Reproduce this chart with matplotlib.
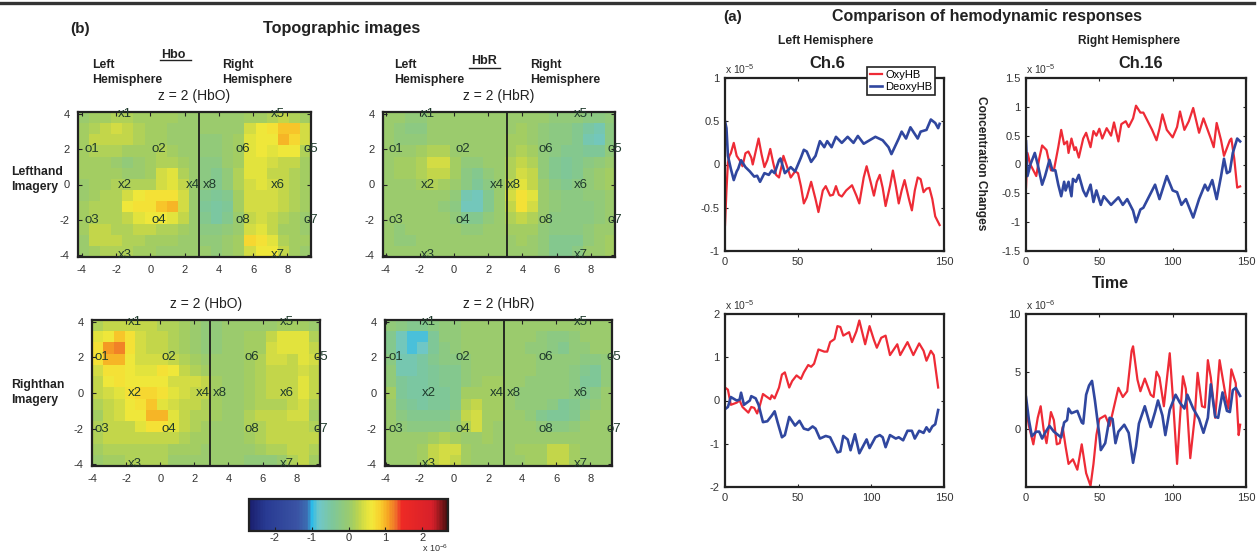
"""
Topographic images and hemodynamic responses, two part figure
"""
import matplotlib
matplotlib.use('Agg')
import matplotlib.pyplot as plt
from matplotlib.cm import ScalarMappable
from matplotlib.colors import LinearSegmentedColormap, Normalize
import numpy as np

plt.rcParams['font.family'] = ['Liberation Sans', 'DejaVu Sans']
plt.rcParams['mathtext.default'] = 'regular'
plt.rcParams['axes.unicode_minus'] = False

W, H = 1258, 552
DARK = '#222222'
RED = '#ee2b36'
BLUE = '#30479f'

# topographic maps, units of 1e-7, top row first
map_left_hbo = [
    [0, 1, 1, 2, 2, 1, 1, 1, 1, 0, 0, 0, 0, 0, 0, 1, 1, 2, 3, 2, 1],
    [1, 2, 3, 4, 3, 2, 1, 1, 0, 0, 0, 0, 0, 0, 0, 4, 6, 7, 9, 9, 4],
    [1, 3, 3, 3, 3, 2, 1, 1, 0, 0, 0, -1, -1, 0, 1, 5, 6, 6, 10, 8, 4],
    [1, 2, 2, 2, 1, 1, 1, 2, 1, 0, 0, -1, -1, 0, 1, 5, 6, 5, 6, 6, 2],
    [1, 1, 1, 0, -1, 0, 1, 2, 2, 1, 0, -2, -2, 0, 1, 5, 5, 4, 3, 3, 1],
    [1, 1, 1, 1, 0, 0, 1, 4, 5, 2, 0, -2, -3, -1, 2, 5, 5, 3, 3, 2, 1],
    [0, 1, 1, 2, 2, 2, 2, 4, 5, 3, 0, -2, -3, -1, 2, 4, 5, 4, 3, 2, 1],
    [0, 1, 2, 2, 4, 6, 7, 7, 7, 4, 0, -3, -4, -3, 1, 4, 4, 4, 3, 2, 1],
    [1, 2, 2, 2, 6, 7, 7, 9, 10, 4, 0, -4, -5, -4, 1, 4, 4, 4, 3, 2, 1],
    [1, 2, 2, 2, 3, 5, 6, 6, 5, 3, 0, -3, -5, -3, 0, 3, 4, 3, 2, 1, 0],
    [1, 3, 3, 2, 2, 3, 3, 2, 2, 1, 0, -2, -2, -1, 0, 4, 5, 3, 1, 1, 0],
    [0, 3, 3, 3, 2, 2, 1, 1, 1, 0, 0, -1, -1, 0, 1, 8, 7, 5, 2, 1, 1],
    [0, 1, 2, 2, 2, 1, 1, 0, 0, 0, 0, 0, -1, 0, 1, 4, 6, 6, 3, 1, 0],
]
map_left_hbr = [
    [0, 0, -1, -1, 0, 0, 0, 0, 0, 0, 0, 0, 0, 0, 0, -1, -1, -1, -2, -2, -1],
    [0, -1, -2, -2, 0, 0, 0, 0, 0, 0, 0, 0, 1, 0, -1, -2, -2, -3, -5, -6, -2],
    [0, -1, -1, -1, 0, 0, 0, 0, 0, 0, 0, 1, 1, 0, -1, -2, -2, -3, -6, -7, -2],
    [0, 0, 0, 1, 2, 2, 0, 0, 0, 0, 0, 1, 2, 1, -1, -2, -3, -3, -4, -4, -1],
    [0, 1, 1, 2, 4, 4, 1, -1, -1, 0, 0, 2, 3, 2, -1, -3, -4, -3, -2, -1, 0],
    [0, 1, 1, 2, 3, 3, 1, -2, -3, -1, 0, 2, 4, 3, -1, -3, -4, -3, -1, 0, 1],
    [0, 0, 0, 1, 2, 1, 0, -2, -4, -2, 0, 3, 5, 3, 0, -2, -3, -2, -1, 0, 1],
    [0, 0, 0, 0, 0, 0, -1, -6, -7, -3, 0, 4, 7, 5, 0, -1, -2, -2, -1, -1, 0],
    [0, 0, 0, 0, 0, -1, -2, -7, -7, -3, 0, 3, 7, 4, 0, -1, -2, -2, -2, -1, 0],
    [0, 0, 0, 0, 0, 0, -1, -3, -3, -1, 0, 2, 3, 2, 0, -2, -2, -2, -2, -1, 0],
    [0, -1, 0, 0, 0, 0, 0, -1, -1, 0, 0, 1, 1, 1, -1, -2, -2, -2, -1, 0, 0],
    [0, -1, -1, 0, 0, 0, 0, 0, 0, 0, 0, 0, 1, 0, -1, -3, -3, -3, -1, 0, 1],
    [0, 0, 0, 0, 0, 0, 0, 0, 0, 0, 0, 0, 0, 0, -1, -3, -3, -2, 0, 0, 1],
]
map_right_hbo = [
    [2, 3, 3, 3, 3, 3, 2, 2, 1, 0, -1, -1, 0, 0, 0, 0, 0, 1, 1, 1, 0],
    [5, 6, 9, 7, 4, 3, 3, 2, 1, 0, -1, -1, 0, 0, 1, 1, 3, 5, 5, 5, 2],
    [7, 11, 12, 7, 4, 3, 3, 2, 1, 0, -1, -1, 0, 0, 1, 1, 4, 5, 5, 5, 3],
    [7, 10, 10, 6, 4, 4, 4, 3, 2, 1, 0, 0, 0, 0, 1, 2, 4, 4, 3, 5, 4],
    [4, 7, 7, 6, 5, 5, 7, 6, 3, 2, 1, 0, 0, 0, 1, 2, 3, 3, 3, 4, 3],
    [3, 6, 7, 6, 6, 6, 6, 4, 4, 4, 3, 1, 0, 0, 1, 2, 3, 3, 3, 5, 3],
    [3, 4, 5, 7, 8, 8, 7, 5, 4, 3, 3, 1, 0, 0, 1, 2, 3, 3, 3, 5, 3],
    [2, 3, 4, 6, 7, 9, 5, 4, 3, 3, 2, 1, 0, 0, 1, 2, 2, 2, 3, 4, 2],
    [1, 3, 4, 6, 6, 10, 10, 5, 3, 2, 2, 1, 0, 0, 2, 3, 3, 3, 4, 4, 1],
    [2, 3, 3, 3, 5, 7, 7, 5, 3, 2, 1, 0, 0, 0, 2, 2, 3, 3, 3, 3, 2],
    [2, 3, 3, 3, 3, 3, 3, 3, 2, 1, 1, 0, 0, 0, 1, 2, 3, 3, 3, 3, 3],
    [1, 2, 2, 2, 2, 2, 2, 1, 1, 1, 0, 0, 0, 0, 0, 1, 2, 2, 3, 3, 2],
    [0, 1, 1, 2, 2, 2, 2, 0, 0, 0, 0, 0, 0, 0, -1, -1, -1, 0, 2, 3, 1],
]
map_right_hbr = [
    [-1, -2, -3, -3, -2, -1, -1, 0, 0, 0, 0, 0, 0, 0, 0, 0, 0, 0, 0, 0, 0],
    [-3, -7, -9, -9, -4, -1, -1, 0, 0, 0, 0, 0, 0, 0, -1, -2, -2, -1, 0, 0, 0],
    [-3, -7, -9, -8, -4, -2, -1, 0, 0, 0, 0, 0, 0, -1, -1, -2, -3, -1, -1, 0, 0],
    [-2, -6, -6, -5, -3, -2, -2, -1, 0, 0, 0, 0, 0, 0, -1, -1, -1, -1, -2, -2, -1],
    [-1, -6, -6, -5, -4, -3, -3, -1, 0, 0, 0, 0, 0, 0, -1, -1, -1, -2, -3, -4, -1],
    [-1, -4, -5, -5, -4, -3, -3, -1, 0, 1, 1, 0, 0, -1, -1, -1, -1, -2, -4, -4, -1],
    [1, -4, -5, -5, -4, -4, -3, 1, 1, 1, 1, 0, -1, -1, -1, -1, -1, -2, -3, -2, 0],
    [0, -3, -4, -5, -4, -4, -3, 2, 3, 1, 1, 0, -1, -1, -1, -2, -4, -3, -2, -1, 0],
    [0, -2, -3, -3, -3, -3, -2, 3, 4, 1, 1, 0, 0, -1, -3, -4, -4, -3, -1, 0, 0],
    [0, -1, -2, -2, -2, -2, -1, 2, 4, 1, 0, 0, 0, 0, -1, -2, -2, -1, 0, 0, 0],
    [0, 0, 0, 0, 1, 2, 1, 0, 0, 1, 0, 0, 0, 0, 0, 0, 0, 0, 0, 0, 0],
    [0, 0, 0, 1, 3, 4, 4, 1, 0, 0, 0, 0, 1, 1, 1, 3, 3, 1, 0, 0, 0],
    [0, 0, 0, 1, 3, 4, 3, 1, 0, 0, 0, 0, 0, 1, 1, 3, 3, 1, 0, 0, 0],
]

# probe labels on the maps
probe_names = ['x1', 'x2', 'x3', 'x4', 'x8', 'x5', 'x6', 'x7',
               'o1', 'o2', 'o3', 'o4', 'o6', 'o5', 'o8', 'o7']
probe_x = [-1.5, -1.5, -1.5, 2.5, 3.5, 7.45, 7.45, 7.45,
           -3.4, 0.5, -3.4, 0.5, 5.4, 9.4, 5.4, 9.4]
probe_y = [4, 0, -4, 0, 0, 4, 0, -4, 2, 2, -2, -2, 2, 2, -2, -2]

map_ticks_x = [-4, -2, 0, 2, 4, 6, 8]
map_ticks_y = [-4, -2, 0, 2, 4]
cbar_ticks = [-2, -1, 0, 1, 2]

# Ch.6, units of 1e-5
ch6_oxy_t = [0, 1, 2, 3, 4, 6, 8, 10, 12, 14, 16, 18, 19, 21, 23, 25, 27, 29, 31, 33, 35, 37, 39, 40, 42, 45, 48, 50,
             52, 54, 56, 59, 62, 64, 67, 69, 72, 74, 76, 78, 80, 83, 87, 90, 92, 95, 97, 100, 102, 104, 106, 108, 110,
             113, 115, 117, 119, 121, 123, 126, 128, 130, 132, 134, 136, 138, 140, 142, 144, 147]
ch6_oxy = [-0.7, -0.3, 0.02, 0.1, 0.13, 0.25, 0.1, 0.05, -0.02, 0.13, 0.15, 0.08, 0.0, 0.15, 0.3, 0.12, -0.03, 0.05,
           0.18, 0.02, -0.12, -0.15, 0.0, 0.1, 0.0, -0.15, -0.08, -0.1, -0.25, -0.45, -0.38, -0.2, -0.4, -0.55, -0.3,
           -0.25, -0.36, -0.35, -0.25, -0.35, -0.37, -0.3, -0.24, -0.36, -0.45, -0.15, -0.02, -0.22, -0.36, -0.2,
           -0.12, -0.27, -0.48, -0.25, -0.07, -0.25, -0.45, -0.3, -0.18, -0.4, -0.53, -0.3, -0.15, -0.17, -0.32,
           -0.28, -0.27, -0.4, -0.6, -0.7]
ch6_deoxy_t = [0, 1, 2, 4, 6, 8, 9, 11, 14, 17, 20, 22, 24, 27, 30, 32, 34, 37, 38, 41, 44, 45, 48, 50, 52, 54, 56,
               59, 62, 65, 68, 70, 73, 76, 80, 84, 88, 91, 95, 98, 103, 108, 112, 114, 119, 121, 124, 127, 132, 134,
               138, 141, 144, 146, 147]
ch6_deoxy = [0.5, 0.42, 0.1, -0.05, -0.18, -0.08, -0.05, 0.05, -0.03, -0.08, -0.14, -0.13, -0.2, -0.1, -0.12, -0.07,
             -0.1, 0.05, 0.07, -0.1, -0.05, -0.03, -0.08, 0.0, 0.08, 0.17, 0.15, 0.03, 0.1, 0.27, 0.2, 0.27, 0.2,
             0.32, 0.25, 0.32, 0.25, 0.33, 0.24, 0.27, 0.32, 0.28, 0.2, 0.12, 0.3, 0.38, 0.3, 0.43, 0.3, 0.38, 0.4,
             0.52, 0.48, 0.42, 0.47]

# Ch.16, units of 1e-5
ch16_oxy_t = [0, 1, 3, 7, 9, 11, 14, 17, 19, 22, 24, 26, 28, 29, 31, 33, 34, 36, 39, 41, 44, 46, 48, 50, 52, 55, 58,
              60, 63, 65, 68, 70, 73, 75, 78, 80, 83, 86, 89, 91, 93, 96, 100, 103, 105, 108, 111, 114, 118, 121,
              126, 128, 130, 133, 135, 139, 140, 142, 144, 146]
ch16_oxy = [-0.4, 0.2, 0.0, -0.2, 0.1, 0.33, 0.25, -0.1, -0.1, 0.3, 0.6, 0.35, 0.4, 0.2, 0.45, 0.25, 0.3, 0.12, 0.45,
            0.55, 0.3, 0.58, 0.5, 0.62, 0.45, 0.63, 0.5, 0.73, 0.4, 0.7, 0.75, 0.65, 0.8, 1.02, 0.9, 0.9, 0.75, 0.6,
            0.42, 0.62, 0.87, 0.6, 0.47, 0.65, 0.92, 0.6, 0.75, 0.98, 0.55, 0.8, 0.45, 0.3, 0.72, 0.42, 0.15, 0.42,
            0.45, 0.1, -0.4, -0.38]
ch16_deoxy_t = [0, 1, 3, 6, 8, 11, 13, 16, 18, 20, 22, 24, 26, 27, 29, 31, 32, 34, 36, 39, 41, 44, 46, 48, 51, 53,
                58, 63, 66, 69, 73, 75, 78, 80, 84, 88, 91, 96, 100, 103, 106, 109, 114, 118, 122, 124, 127, 130,
                133, 135, 137, 139, 141, 144, 146]
ch16_deoxy = [0.4, -0.2, 0.0, 0.2, 0.0, -0.35, -0.2, 0.08, -0.1, -0.1, -0.35, -0.55, -0.3, -0.45, -0.3, -0.55, -0.25,
              -0.3, -0.18, -0.45, -0.55, -0.35, -0.65, -0.45, -0.7, -0.55, -0.7, -0.57, -0.7, -0.6, -0.8, -1.0, -0.78,
              -0.75, -0.55, -0.35, -0.6, -0.2, -0.45, -0.48, -0.7, -0.6, -0.92, -0.6, -0.35, -0.45, -0.27, -0.6,
              -0.2, 0.1, -0.15, -0.12, 0.2, 0.45, 0.4]

# lower left, units of 1e-5
low_left_oxy_t = [0, 2, 4, 8, 10, 12, 16, 18, 20, 22, 24, 26, 28, 31, 32, 34, 37, 39, 41, 44, 46, 49, 52, 54, 57, 59,
                  61, 64, 68, 70, 72, 75, 77, 79, 81, 85, 87, 90, 92, 96, 99, 102, 104, 107, 110, 113, 118, 120,
                  125, 129, 133, 136, 138, 141, 143, 146]
low_left_oxy = [0.3, 0.25, -0.1, -0.05, 0.0, -0.15, -0.28, -0.15, -0.17, -0.3, -0.1, 0.15, 0.1, 0.03, 0.12, 0.05, 0.3,
                0.6, 0.65, 0.3, 0.45, 0.58, 0.5, 0.65, 0.82, 0.78, 0.85, 1.18, 1.13, 1.13, 1.35, 1.42, 1.72, 1.7, 1.5,
                1.58, 1.35, 1.6, 1.85, 1.3, 1.72, 1.4, 1.22, 1.45, 1.5, 1.05, 1.3, 1.05, 1.35, 1.05, 1.32, 1.15,
                0.92, 1.15, 1.05, 0.3]
low_left_deoxy_t = [0, 2, 4, 8, 10, 11, 13, 15, 17, 18, 21, 23, 26, 29, 32, 34, 36, 39, 41, 44, 48, 51, 54, 57, 60,
                    62, 65, 69, 72, 77, 79, 81, 84, 86, 89, 92, 97, 99, 103, 106, 108, 110, 113, 117, 119, 122, 125,
                    128, 130, 133, 136, 138, 140, 142, 144, 146]
low_left_deoxy = [-0.2, -0.15, 0.08, 0.0, 0.02, 0.18, -0.1, -0.05, 0.0, 0.1, 0.05, -0.1, -0.5, -0.48, -0.35, -0.25,
                  -0.5, -0.85, -0.8, -0.38, -0.58, -0.47, -0.65, -0.68, -0.6, -0.65, -0.88, -0.82, -0.85, -1.2, -1.18,
                  -0.82, -0.9, -1.15, -0.78, -1.22, -0.9, -1.1, -0.85, -0.8, -0.85, -1.08, -0.8, -0.88, -0.85, -0.92,
                  -0.7, -0.7, -0.88, -0.7, -0.75, -0.62, -0.72, -0.6, -0.55, -0.22]

# lower right, units of 1e-6
low_right_oxy_t = [0, 2, 5, 8, 10, 12, 14, 17, 19, 21, 23, 25, 27, 29, 32, 35, 38, 41, 44, 46, 48, 50, 54, 57, 61, 63,
                   66, 69, 72, 73, 76, 78, 81, 85, 87, 89, 91, 94, 98, 100, 103, 105, 107, 109, 112, 115, 117, 120,
                   122, 124, 126, 129, 132, 136, 138, 140, 143, 145, 146]
low_right_oxy = [1.8, 0.3, -1.3, 1.0, 2.0, 0.0, -1.2, 1.5, 0.8, -1.3, -1.2, 0.2, -1.5, -3.0, -2.6, -3.5, -1.3, -3.8,
                 -4.9, -3.0, -0.5, 0.9, 1.2, 0.3, 2.5, 3.6, 2.8, 3.3, 6.8, 7.2, 4.3, 3.3, 4.4, 3.0, 2.8, 5.0, 4.5,
                 2.0, 6.6, 3.0, -3.0, 1.0, 4.6, 3.5, -2.5, 1.0, 4.9, 2.0, 1.9, 6.0, 4.5, 1.0, 6.0, 3.0, 1.8, 5.2,
                 4.0, -0.5, 0.4]
low_right_deoxy_t = [0, 2, 4, 7, 9, 11, 13, 16, 19, 24, 26, 28, 29, 31, 35, 38, 39, 41, 43, 45, 47, 50, 51, 54, 57, 59,
                     61, 63, 67, 70, 73, 75, 77, 81, 85, 88, 90, 93, 95, 98, 102, 105, 108, 110, 114, 118, 121, 124,
                     126, 129, 131, 134, 137, 139, 141, 143, 146]
low_right_deoxy = [2.8, 0.8, -0.6, -0.2, -0.2, -0.8, -0.3, 0.3, -0.2, -0.7, 0.6, 0.8, 1.8, 1.4, 1.6, 0.6, 0.5, 3.0,
                   3.8, 4.2, 2.5, -0.5, -1.8, -1.2, 1.0, 0.9, -1.2, -0.2, 0.4, -0.3, -2.9, -1.5, 0.5, 2.0, 0.2, 1.5,
                   2.5, 1.2, -0.5, 1.7, 3.0, 2.3, 1.8, 3.0, 1.8, 0.9, -0.3, 1.0, 3.9, 1.1, 1.0, 3.2, 1.6, 1.5, 3.4,
                   3.6, 2.9]

map_cmap = LinearSegmentedColormap.from_list('maps', [
    (0.00, '#1a1f6e'), (0.08, '#283a92'), (0.24, '#3a53a4'), (0.29, '#3c6db2'),
    (0.315, '#2dbbe8'), (0.35, '#6fc7c9'), (0.42, '#7ec79a'), (0.48, '#92ca7a'),
    (0.50, '#9acb70'), (0.52, '#a4ce62'), (0.555, '#c0d54c'), (0.59, '#e2e33e'),
    (0.62, '#f3e83a'), (0.66, '#f8cf2d'), (0.70, '#f6a623'), (0.74, '#ef6c2b'),
    (0.77, '#ee2a25'), (0.925, '#d7202a'), (1.00, '#4a1010')], N=128)
map_norm = Normalize(-2.7, 2.7)


def ax_px(x0, y0, x1, y1):
    """Axes from pixel corners of the reference"""
    ax = fig.add_axes([x0 / W, 1 - y1 / H, (x1 - x0) / W, (y1 - y0) / H])
    for spine in ax.spines.values():
        spine.set_linewidth(1.6)
        spine.set_color(DARK)
    return ax


def txt(x, y, s, **kw):
    kw.setdefault('ha', 'center')
    kw.setdefault('va', 'center')
    kw.setdefault('color', DARK)
    fig.text(x / W, 1 - y / H, s, **kw)


def draw_map(box, grid, xlim, ylim, title, vline):
    ax = ax_px(*box)
    ax.imshow(np.array(grid) / 10, cmap=map_cmap, norm=map_norm, aspect='auto',
              interpolation='nearest', extent=[xlim[0], xlim[1], ylim[0], ylim[1]])
    ax.axvline(vline, color='#1c1c1c', linewidth=1.3)
    for name, px, py in zip(probe_names, probe_x, probe_y):
        ax.text(px, py, name, ha='center', va='center', fontsize=9.5,
                color='#1f3a2c', clip_on=False)
    ax.set_xlim(xlim)
    ax.set_ylim(ylim)
    ax.set_xticks(map_ticks_x)
    ax.set_yticks(map_ticks_y)
    ax.tick_params(direction='in', top=True, right=True, length=3, width=0.8,
                   labelsize=8, labelcolor='#333333', color=DARK, pad=6)
    ax.set_title(title, fontsize=10, color=DARK, pad=8.5)
    return ax


def draw_lines(box, oxy, deoxy, ylim, yticks, ylabels, xlabels, exp_label):
    ax = ax_px(*box)
    line_oxy, = ax.plot(oxy[0], oxy[1], color=RED, linewidth=1.6)
    line_deoxy, = ax.plot(deoxy[0], deoxy[1], color=BLUE, linewidth=1.9)
    ax.set_xlim(0, 150)
    ax.set_ylim(ylim)
    ax.set_xticks([0, 50, 100, 150])
    ax.set_xticklabels(xlabels)
    ax.set_yticks(yticks)
    ax.set_yticklabels(ylabels)
    ax.tick_params(direction='in', top=True, right=True, length=2.5, width=0.8,
                   labelsize=8, labelcolor='#333333', color=DARK, pad=4)
    ax.text(0.0, 1.012, exp_label, transform=ax.transAxes, fontsize=7.5,
            ha='left', va='bottom', color='#333333')
    return ax, line_oxy, line_deoxy


fig = plt.figure(figsize=(W / 100, H / 100), dpi=100, facecolor='white')

# rule across the top of the page
fig.add_artist(plt.Line2D([0, 1254 / W], [1 - 3 / H, 1 - 3 / H], color='#333333', linewidth=2.4))

# part (b)
txt(80, 29, '(b)', fontsize=11, fontweight='bold')
txt(341.5, 29, 'Topographic images', fontsize=11.7, fontweight='bold')

txt(173, 55, 'Hbo', fontsize=9, fontweight='bold')
fig.add_artist(plt.Line2D([160 / W, 191 / W], [1 - 60 / H, 1 - 60 / H], color=DARK, linewidth=1))
txt(92, 72.5, 'Left\nHemisphere', fontsize=8.8, fontweight='bold', ha='left', linespacing=1.3)
txt(222, 72.5, 'Right\nHemisphere', fontsize=8.8, fontweight='bold', ha='left', linespacing=1.3)

txt(484, 61, 'HbR', fontsize=9, fontweight='bold')
fig.add_artist(plt.Line2D([469 / W, 500 / W], [1 - 68 / H, 1 - 68 / H], color=DARK, linewidth=1))
txt(394, 72.5, 'Left\nHemisphere', fontsize=8.8, fontweight='bold', ha='left', linespacing=1.3)
txt(530, 72.5, 'Right\nHemisphere', fontsize=8.8, fontweight='bold', ha='left', linespacing=1.3)

txt(11, 179.5, 'Lefthand\nImagery', fontsize=8.8, fontweight='bold', ha='left', linespacing=1.3)
txt(11, 392.5, 'Righthan\nImagery', fontsize=8.8, fontweight='bold', ha='left', linespacing=1.3)

draw_map((78, 112, 311, 257), map_left_hbo, (-4.23, 9.39), (-4.1, 4.1), 'z = 2 (HbO)', 2.84)
draw_map((383, 112, 615, 257), map_left_hbr, (-4.15, 9.42), (-4.1, 4.1), 'z = 2 (HbR)', 3.1)
draw_map((92, 320, 320, 466), map_right_hbo, (-4.0, 9.37), (-4.1, 4.1), 'z = 2 (HbO)', 2.9)
draw_map((385, 320, 612, 466), map_right_hbr, (-4.05, 9.27), (-4.1, 4.1), 'z = 2 (HbR)', 2.93)

# shared colour scale
cax = ax_px(249, 499, 448, 531)
cbar = fig.colorbar(ScalarMappable(norm=map_norm, cmap=map_cmap), cax=cax, orientation='horizontal')
cbar.set_ticks(cbar_ticks)
cbar.outline.set_linewidth(1.6)
cbar.outline.set_edgecolor(DARK)
cbar.ax.tick_params(direction='in', length=3, width=0.8, labelsize=8,
                    labelcolor='#333333', color=DARK, pad=1.5)
txt(435, 548.5, r'x $10^{-6}$', fontsize=6.5, color='#333333')

# part (a)
txt(733, 17, '(a)', fontsize=11, fontweight='bold')
txt(986.5, 17, 'Comparison of hemodynamic responses', fontsize=11.5, fontweight='bold')
txt(826, 41, 'Left Hemisphere', fontsize=8.7, fontweight='bold')
txt(1129, 41, 'Right Hemisphere', fontsize=8.6, fontweight='bold')
txt(827, 64, 'Ch.6', fontsize=12, fontweight='bold')
txt(1141, 64, 'Ch.16', fontsize=11.8, fontweight='bold')
txt(981, 163, 'Concentration Changes', fontsize=8.6, fontweight='bold', rotation=-90)
txt(1110, 284, 'Time', fontsize=11.5, fontweight='bold')

ax6, line_oxy, line_deoxy = draw_lines(
    (725, 78, 944, 251), (ch6_oxy_t, ch6_oxy), (ch6_deoxy_t, ch6_deoxy), (-1, 1),
    [-1, -0.5, 0, 0.5, 1], ['-1', '-0.5', '0', '0.5', '1'], ['0', '50', '', '150'], r'x $10^{-5}$')
draw_lines(
    (1026, 78, 1246, 251), (ch16_oxy_t, ch16_oxy), (ch16_deoxy_t, ch16_deoxy), (-1.5, 1.5),
    [-1.5, -1, -0.5, 0, 0.5, 1, 1.5], ['-1.5', '-1', '-0.5', '0', '0.5', '1', '1.5'],
    ['0', '50', '100', '150'], r'x $10^{-5}$')
draw_lines(
    (725, 314, 944, 487), (low_left_oxy_t, low_left_oxy), (low_left_deoxy_t, low_left_deoxy), (-2, 2),
    [-2, -1, 0, 1, 2], ['-2', '-1', '0', '1', '2'], ['0', '50', '100', '150'], r'x $10^{-5}$')
draw_lines(
    (1026, 314, 1246, 487), (low_right_oxy_t, low_right_oxy), (low_right_deoxy_t, low_right_deoxy), (-5, 10),
    [-5, 0, 5, 10], ['', '0', '5', '10'], ['0', '50', '100', '150'], r'x $10^{-6}$')

leg = ax6.legend([line_oxy, line_deoxy], ['OxyHB', 'DeoxyHB'], fontsize=8, loc='upper right',
                 bbox_to_anchor=(935 / W, 1 - 67 / H), bbox_transform=fig.transFigure,
                 fancybox=False, framealpha=1, edgecolor=DARK, borderpad=0.25, labelspacing=0.2,
                 handlelength=1.1, handletextpad=0.3, borderaxespad=0)
leg.get_frame().set_linewidth(1.2)
leg.set_zorder(10)

fig.savefig('out.png', dpi=100, facecolor='white')
plt.close(fig)
